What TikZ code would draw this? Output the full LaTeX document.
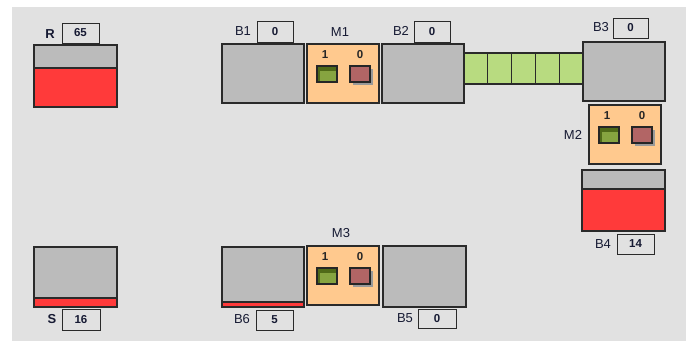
\documentclass[tikz,border=0pt]{standalone}
\usepackage{fontspec}
\setmainfont{Liberation Sans}
\usetikzlibrary{shadows}

\definecolor{panel}{HTML}{E1E1E1}
\definecolor{bufgray}{HTML}{BBBBBB}
\definecolor{edgec}{HTML}{2A2A2A}
\definecolor{stock}{HTML}{FF3A3A}
\definecolor{peach}{HTML}{FFC98E}
\definecolor{belt}{HTML}{B8DB80}
\definecolor{okdark}{HTML}{4F6A18}
\definecolor{oklight}{HTML}{86A440}
\definecolor{failc}{HTML}{B26565}
\definecolor{txt}{HTML}{161A33}

\tikzset{
  edge/.style={draw=edgec, line width=1.2pt},
  buffer/.style={edge, fill=bufgray, rectangle, outer sep=0pt, inner sep=0pt,
    minimum width=82pt, minimum height=59pt, anchor=north west},
  lbl/.style={text=txt, font=\fontsize{13}{13}\selectfont, inner sep=0pt},
  boldlbl/.style={lbl, font=\bfseries\fontsize{13}{13}\selectfont},
  counter/.style={draw=edgec, line width=1pt, fill=panel, inner sep=0pt,
    minimum width=37pt, minimum height=20pt, text=txt,
    font=\bfseries\fontsize{11.5}{12}\selectfont},
  mbox/.style={edge, fill=peach, outer sep=0pt, inner sep=0pt,
    minimum width=72pt, minimum height=59pt, anchor=north west},
  mnum/.style={text=black!85, font=\bfseries\fontsize{11.5}{11}\selectfont, inner sep=0pt},
  okled/.style={draw=black!85, line width=1.1pt, fill=okdark, outer sep=0pt, inner sep=0pt,
    minimum width=20pt, minimum height=16pt, anchor=north west,
    path picture={\fill[oklight] ([xshift=3pt,yshift=-5pt]path picture bounding box.north west)
      rectangle (path picture bounding box.south east);}},
  failled/.style={draw=black!85, line width=1.1pt, fill=failc, outer sep=0pt, inner sep=0pt,
    minimum width=20pt, minimum height=16pt, anchor=north west,
    drop shadow={shadow xshift=3pt, shadow yshift=-3pt, fill=black!40, opacity=1}},
  cell/.style={edge, fill=belt, outer sep=0pt, inner sep=0pt,
    minimum width=23.8pt, minimum height=31pt, anchor=north west},
  machine/.pic={
    \node[mbox] (-box) at (0,0) {};
    \node[mnum] (-one) at (18,11) {1};
    \node[mnum] (-zero) at (53,11) {0};
    \node[okled] (-ok) at (10,22) {};
    \node[failled] (-fail) at (43,22) {};
  }
}

\begin{document}
\begin{tikzpicture}[x=1pt,y=-1pt]
\useasboundingbox (0,0) rectangle (691,341);
\fill[white] (0,0) rectangle (691,341);
\fill[panel] (12,7) rectangle (686,341);

% raw material store R
\node[buffer, minimum width=83pt, minimum height=62pt] (R) at (34,45) {};
\fill[stock] ([yshift=-23pt]R.north west) rectangle (R.south east);
\draw[edge] ([yshift=-23pt]R.north west) -- ([yshift=-23pt]R.north east);
\draw[edge] (R.north west) rectangle (R.south east);
\node[boldlbl] (Rl) at (50,34) {R};
\node[counter] (Rc) at (80.5,33) {65};

% first line: B1 - M1 - B2 - belt - B3
\node[buffer] (B1) at (222,44) {};
\node[lbl] (B1l) at (243,31) {B1};
\node[counter, minimum width=36pt, minimum height=21pt] (B1c) at (275,31.5) {0};

\pic (M1) at (307,44) {machine};
\node[lbl] (M1l) at (340,32) {M1};

\node[buffer] (B2) at (382,44) {};
\node[lbl] (B2l) at (401,31) {B2};
\node[counter, minimum width=36pt, minimum height=21pt] (B2c) at (432,31.5) {0};

\foreach \i in {0,...,4}{
  \node[cell] (belt\i) at ({464+23.8*\i},53) {};
}

\node[buffer, minimum width=82pt, minimum height=59pt] (B3) at (583,42) {};
\node[lbl] (B3l) at (601,27) {B3};
\node[counter, minimum width=35pt] (B3c) at (630.5,28) {0};

% M2 and output store B4
\pic (M2) at (589,105) {machine};
\node[lbl] (M2l) at (573,135) {M2};

\node[buffer, minimum width=83pt, minimum height=61pt] (B4) at (582,170) {};
\fill[stock] ([yshift=-19pt]B4.north west) rectangle (B4.south east);
\draw[edge] ([yshift=-19pt]B4.north west) -- ([yshift=-19pt]B4.north east);
\draw[edge] (B4.north west) rectangle (B4.south east);
\node[lbl] (B4l) at (603,244) {B4};
\node[counter] (B4c) at (635.5,244) {14};

% scrap store S
\node[buffer, minimum width=83pt, minimum height=60pt] (S) at (34,247) {};
\fill[stock] ([yshift=9pt]S.south west) rectangle (S.south east);
\draw[edge] ([yshift=9pt]S.south west) -- ([yshift=9pt]S.south east);
\draw[edge] (S.north west) rectangle (S.south east);
\node[boldlbl] (Sl) at (52,319) {S};
\node[counter, minimum width=38pt, minimum height=21pt] (Sc) at (81,319.5) {16};

% second line: B6 - M3 - B5
\node[buffer, minimum width=82pt, minimum height=60pt] (B6) at (222,247) {};
\fill[stock] ([yshift=5pt]B6.south west) rectangle (B6.south east);
\draw[edge] ([yshift=5pt]B6.south west) -- ([yshift=5pt]B6.south east);
\draw[edge] (B6.north west) rectangle (B6.south east);
\node[lbl] (B6l) at (242,319) {B6};
\node[counter] (B6c) at (274.5,320) {5};

\pic (M3) at (307,246) {machine};
\node[lbl] (M3l) at (341,233) {M3};

\node[buffer, minimum width=83pt, minimum height=61pt] (B5) at (383,246) {};
\node[lbl] (B5l) at (405,318) {B5};
\node[counter, minimum width=38pt, minimum height=19pt] (B5c) at (437,319) {0};
\end{tikzpicture}
\end{document}
